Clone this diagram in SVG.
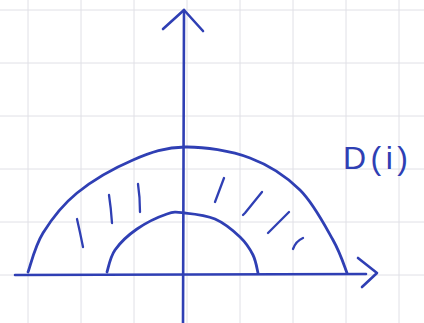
<svg xmlns="http://www.w3.org/2000/svg" width="424" height="323" viewBox="0 0 424 323">
<style>
.grid{stroke:#e0e0e6;stroke-width:1;fill:none}
.ink{stroke:#2f3fb4;fill:none;stroke-linecap:round;stroke-linejoin:round}
.axis{stroke-width:2.6}
.arc{stroke-width:2.8}
.hatch{stroke-width:2.3}
.lbl{font-family:"Liberation Sans",Arial,sans-serif;font-size:32px;fill:#2f3fb4}
</style>
<rect width="424" height="323" fill="#ffffff"/>
<g id="grid" class="grid">
<path d="M28 0V323M81 0V323M134 0V323M187 0V323M240 0V323M293 0V323M346 0V323M399 0V323"/>
<path d="M0 10H424M0 63H424M0 116H424M0 169H424M0 222H424M0 275H424"/>
</g>
<g id="axes" class="ink axis">
<path d="M15 275L366 274"/>
<path d="M358 258L377 273L362 287"/>
<path d="M184 10L183 323"/>
<path d="M163 29L184 10L203 31"/>
</g>
<g id="outer-arc" class="ink arc">
<path d="M28 272C30.5 265.5 34.8 246.2 43 233C51.2 219.8 62 205.2 77 193C92 180.8 115 167.7 133 160C151 152.3 165.5 147.3 185 147C204.5 146.7 230.8 150.8 250 158C269.2 165.2 286.2 176.3 300 190C313.8 203.7 325.2 226.2 333 240C340.8 253.8 344.7 267.5 347 273"/>
</g>
<g id="inner-arc" class="ink arc">
<path d="M107 272C108.3 268.3 110 257.2 115 250C120 242.8 128.3 235 137 229C145.7 223 159 216.7 167 214C175 211.3 177 212.2 185 213C193 213.8 205.8 215 215 219C224.2 223 233.7 231 240 237C246.3 243 250 249 253 255C256 261 257.2 270 258 273"/>
</g>
<g id="hatching" class="ink hatch">
<path d="M77 219Q80 232 83 247"/>
<path d="M109 195Q111 208 112 223"/>
<path d="M138 184Q140 197 140 212"/>
<path d="M224 178L215 202"/>
<path d="M262 192L245 213L243 215"/>
<path d="M289 212L268 233"/>
<path d="M303 238Q296 241 293 249"/>
</g>
<g id="label">
<text class="lbl" x="343" y="169" textLength="65" lengthAdjust="spacing">D(i)</text>
</g>
</svg>
